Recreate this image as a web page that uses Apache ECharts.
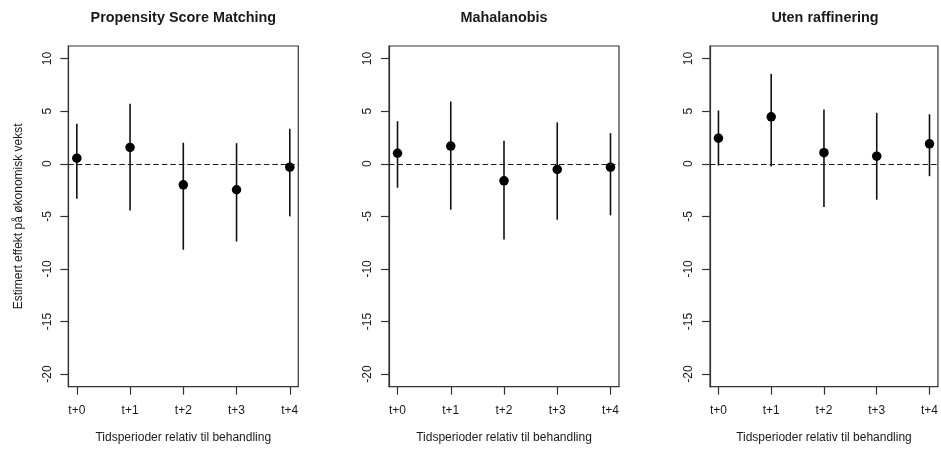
<!DOCTYPE html>
<html>
<head>
<meta charset="utf-8">
<script src="https://cdn.jsdelivr.net/npm/echarts@6/dist/echarts.min.js"></script>
<style>
  html, body { margin: 0; padding: 0; background: #fff; }
  #chart { width: 941px; height: 450px; }
</style>
</head>
<body>
<div id="chart"></div>
<script>
// Periods relative to treatment
const categories = ['t+0', 't+1', 't+2', 't+3', 't+4'];
const yTicks = [-20, -15, -10, -5, 0, 5, 10];
const panelTitles = ['Propensity Score Matching', 'Mahalanobis', 'Uten raffinering'];

// Propensity score matching: estimates and confidence bounds
const psmEst  = [0.53, 1.55, -2.00, -2.47, -0.32];
const psmLow  = [-3.33, -4.44, -8.18, -7.39, -5.00];
const psmHigh = [3.80, 5.70, 2.00, 1.96, 3.33];

// Mahalanobis matching
const mahEst  = [1.00, 1.68, -1.62, -0.54, -0.32];
const mahLow  = [-2.28, -4.37, -7.20, -5.32, -4.91];
const mahHigh = [4.05, 5.92, 2.19, 3.93, 2.91];

// No refinement
const rawEst  = [2.43, 4.47, 1.05, 0.72, 1.90];
const rawLow  = [-0.16, -0.26, -4.12, -3.42, -1.18];
const rawHigh = [5.07, 8.55, 5.16, 4.85, 4.71];

const panels = [
  { est: psmEst, low: psmLow, high: psmHigh },
  { est: mahEst, low: mahLow, high: mahHigh },
  { est: rawEst, low: rawLow, high: rawHigh }
];

const FONT = '"Liberation Sans", Arial, Helvetica, sans-serif';
const INK = '#1a1a1a';
const FRAME = '#333';
const gridLeft = [68.3, 389, 710];
const gridW = 230;
const gridTop = 46;
const gridH = 340.7;

const chart = echarts.init(document.getElementById('chart'), null, { renderer: 'canvas' });

const grids = [], xAxes = [], yAxes = [], series = [], titles = [];

panels.forEach((p, i) => {
  grids.push({
    left: gridLeft[i], top: gridTop, width: gridW, height: gridH,
    show: true, borderColor: FRAME, borderWidth: 1.2, backgroundColor: 'transparent'
  });
  titles.push({
    text: panelTitles[i],
    left: gridLeft[i] + gridW / 2, top: 11, textAlign: 'center', padding: 0,
    textStyle: { fontFamily: FONT, fontSize: 14.4, fontWeight: 'bold', color: INK }
  });
  xAxes.push({
    gridIndex: i, type: 'value', min: -0.16, max: 4.16, position: 'bottom',
    name: 'Tidsperioder relativ til behandling',
    nameLocation: 'middle', nameGap: 45,
    nameTextStyle: { fontFamily: FONT, fontSize: 12, color: INK },
    axisLine: { show: true, onZero: false, lineStyle: { color: FRAME, width: 1.2 } },
    axisTick: { show: true, inside: false, length: 8, customValues: [0, 1, 2, 3, 4], lineStyle: { color: FRAME, width: 1.2 } },
    axisLabel: {
      show: true, customValues: [0, 1, 2, 3, 4], margin: 18,
      fontFamily: FONT, fontSize: 12, color: INK,
      formatter: v => categories[Math.round(v)]
    },
    splitLine: { show: false }
  });
  yAxes.push({
    gridIndex: i, type: 'value', min: -21.2, max: 11.2, position: 'left',
    name: i === 0 ? 'Estimert effekt på økonomisk vekst' : '',
    nameLocation: 'middle', nameGap: 44, nameRotate: 90,
    nameTextStyle: { fontFamily: FONT, fontSize: 12, color: INK },
    axisLine: { show: true, onZero: false, lineStyle: { color: FRAME, width: 1.2 } },
    axisTick: { show: true, inside: false, length: 8, customValues: yTicks, lineStyle: { color: FRAME, width: 1.2 } },
    axisLabel: {
      show: true, customValues: yTicks, rotate: 90, margin: 15,
      fontFamily: FONT, fontSize: 12, color: INK
    },
    splitLine: { show: false }
  });

  // Confidence intervals as vertical segments
  series.push({
    type: 'custom', xAxisIndex: i, yAxisIndex: i, silent: true,
    data: categories.map((c, k) => [k, p.low[k], p.high[k]]),
    renderItem: (params, api) => {
      const a = api.coord([api.value(0), api.value(1)]);
      const b = api.coord([api.value(0), api.value(2)]);
      return {
        type: 'line',
        shape: { x1: a[0], y1: a[1], x2: b[0], y2: b[1] },
        style: { stroke: '#111', lineWidth: 1.6 }
      };
    },
    z: 2
  });

  // Point estimates with the zero reference line
  series.push({
    type: 'scatter', xAxisIndex: i, yAxisIndex: i, silent: true,
    symbol: 'circle', symbolSize: 9.5,
    itemStyle: { color: '#000', opacity: 1 },
    data: categories.map((c, k) => [k, p.est[k]]),
    markLine: {
      silent: true, symbol: 'none',
      label: { show: false },
      lineStyle: { color: INK, type: [5.5, 3], width: 1.2, opacity: 1 },
      data: [{ yAxis: 0 }]
    },
    z: 3
  });
});

chart.setOption({
  backgroundColor: '#fff',
  animation: false,
  title: titles,
  grid: grids,
  xAxis: xAxes,
  yAxis: yAxes,
  series: series
});
</script>
</body>
</html>
